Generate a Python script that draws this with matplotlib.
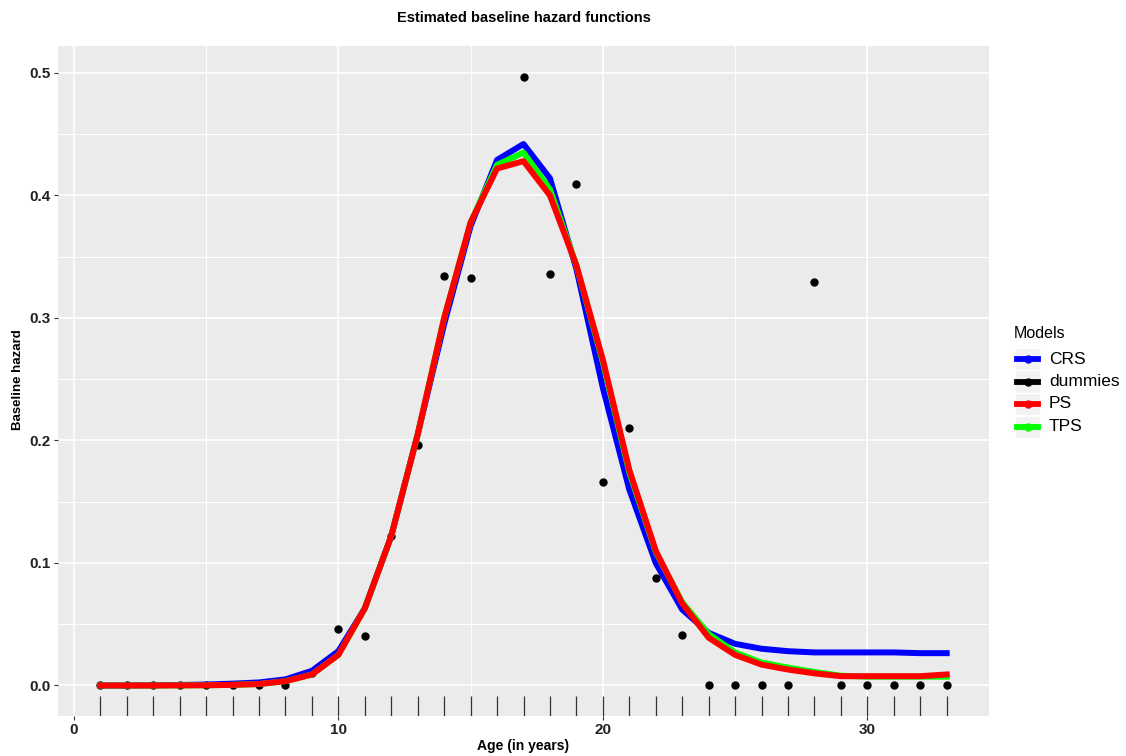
import matplotlib
matplotlib.use("Agg")
import matplotlib.pyplot as plt
from matplotlib.lines import Line2D
from matplotlib.patches import Rectangle

plt.rcParams['font.family'] = ['Liberation Sans', 'DejaVu Sans']

# Age grid (years) and estimated baseline hazards
ages = list(range(1, 34))

dummies = [0.0, 0.0, 0.0, 0.0, 0.0, 0.0, 0.0, 0.0, 0.010, 0.046, 0.040,
           0.122, 0.196, 0.334, 0.333, 0.426, 0.497, 0.336, 0.409, 0.166,
           0.210, 0.088, 0.041, 0.0, 0.0, 0.0, 0.0, 0.329, 0.0, 0.0, 0.0,
           0.0, 0.0]

crs = [0.0, 0.0, 0.0002, 0.0004, 0.0008, 0.0015, 0.0025, 0.005, 0.012, 0.028,
       0.063, 0.122, 0.205, 0.295, 0.375, 0.429, 0.442, 0.414, 0.340, 0.243,
       0.160, 0.100, 0.062, 0.043, 0.034, 0.030, 0.028, 0.027, 0.027, 0.027,
       0.027, 0.0264, 0.0264]

ps = [0.0, 0.0, 0.0, 0.0001, 0.0002, 0.0005, 0.0012, 0.0035, 0.009, 0.025,
      0.063, 0.122, 0.205, 0.300, 0.378, 0.422, 0.428, 0.400, 0.343, 0.266,
      0.176, 0.110, 0.067, 0.039, 0.025, 0.017, 0.013, 0.0099, 0.0076, 0.0076,
      0.0076, 0.0076, 0.009]

tps = [0.0, 0.0, 0.0, 0.0001, 0.0002, 0.0005, 0.0012, 0.0035, 0.009, 0.025,
       0.063, 0.122, 0.205, 0.300, 0.378, 0.425, 0.435, 0.405, 0.343, 0.264,
       0.174, 0.109, 0.068, 0.042, 0.027, 0.0187, 0.0146, 0.011, 0.008, 0.0072,
       0.0072, 0.0072, 0.0072]

x_ticks = [0, 10, 20, 30]
y_ticks = [0.0, 0.1, 0.2, 0.3, 0.4, 0.5]

models = ["CRS", "dummies", "PS", "TPS"]
colors = {"CRS": "#0000FF", "dummies": "#000000", "PS": "#FF0000", "TPS": "#00FF00"}

W, H = 1126, 756
fig = plt.figure(figsize=(W / 100, H / 100), dpi=100)
ax = fig.add_axes([58 / W, 40 / H, (989 - 58) / W, (716 - 46) / H])

# panel styling
ax.set_facecolor("#EBEBEB")
for s in ax.spines.values():
    s.set_visible(False)
ax.set_axisbelow(True)
ax.set_xticks(x_ticks)
ax.set_xticks([5, 15, 25], minor=True)
ax.set_yticks(y_ticks)
ax.set_yticks([0.05, 0.15, 0.25, 0.35, 0.45], minor=True)
ax.grid(which="major", color="white", lw=1.2)
ax.grid(which="minor", color="white", lw=0.7)
ax.tick_params(which="minor", length=0)
ax.tick_params(which="major", length=3, width=0.8, color="#333333",
               labelcolor="#222222", labelsize=11, pad=2)
ax.set_yticklabels([f"{v:.1f}" for v in y_ticks])
ax.set_xticklabels([str(v) for v in x_ticks])
for lab in ax.get_xticklabels() + ax.get_yticklabels():
    lab.set_fontweight("bold")

ax.set_xlim(-0.6, 34.6)
ax.set_ylim(-0.0249, 0.522)

# rug along the age axis
ax.vlines(ages, 0, 0.03, transform=ax.get_xaxis_transform(),
          colors="#333333", lw=0.9, zorder=2)

# observed (dummy) estimates and smoothed curves
ax.plot(ages, dummies, "o", color=colors["dummies"], ms=5, zorder=3)
ax.plot(ages, crs, color=colors["CRS"], lw=4.3, zorder=4)
ax.plot(ages, tps, color=colors["TPS"], lw=4.3, zorder=5)
ax.plot(ages, ps, color=colors["PS"], lw=4.3, zorder=6)

# titles
ax.set_title("Estimated baseline hazard functions", fontsize=10.5,
             fontweight="bold", y=1 + 28 / 670, pad=0, va="center")
ax.set_xlabel("Age (in years)", fontsize=10, fontweight="bold")
ax.xaxis.set_label_coords(0.5, -30 / 670)
ax.xaxis.label.set_va("center")
ax.set_ylabel("Baseline hazard", fontsize=9.5, fontweight="bold")
ax.yaxis.set_label_coords(-40 / 931, (716 - 380) / 670)
ax.yaxis.label.set_va("center")


# legend
def fx(px):
    return px / W


def fy(py):
    return 1 - py / H


fig.text(fx(1014), fy(333), "Models", fontsize=11.5, va="center", ha="left")
row_y = [359, 381.5, 404, 427]
key_h = 22.5
for name, yy in zip(models, row_y):
    fig.add_artist(Rectangle((fx(1015), fy(yy + key_h / 2)), 25 / W, key_h / H,
                             transform=fig.transFigure, facecolor="#F2F2F2",
                             edgecolor="white", lw=1))
    fig.add_artist(Line2D([fx(1017), fx(1038)], [fy(yy), fy(yy)],
                          transform=fig.transFigure, color=colors[name],
                          lw=4.2))
    fig.add_artist(Line2D([fx(1027.5)], [fy(yy)], transform=fig.transFigure,
                          color=colors[name], marker="o", ms=5, lw=0))
    fig.text(fx(1049), fy(yy), name, fontsize=12.5, va="center", ha="left")

fig.savefig("out.png", dpi=100)
